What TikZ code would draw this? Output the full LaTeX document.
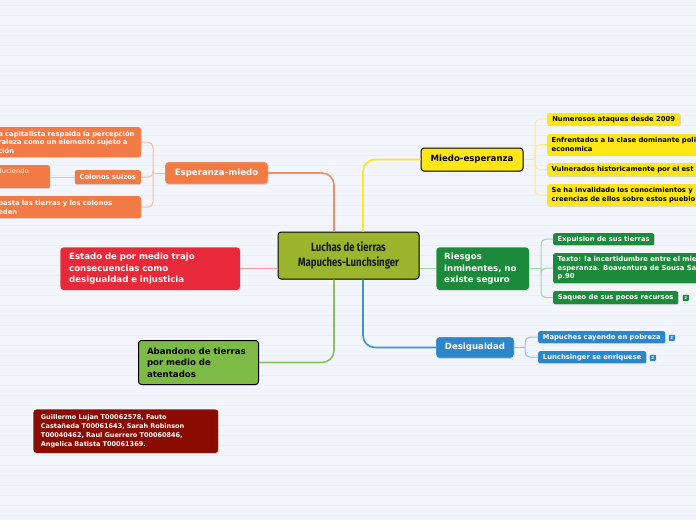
\documentclass[tikz,border=0pt]{standalone}
\usepackage{fontspec}
\setmainfont{DejaVu Sans}
\newfontfamily\cfont[FakeStretch=0.8]{Fira Sans}
\usetikzlibrary{shadows}
\definecolor{bgc}{HTML}{F2F5FC}
\definecolor{bgl}{HTML}{EAEEF7}
\definecolor{colive}{HTML}{9DB52E}
\definecolor{cyellow}{HTML}{FFE617}
\definecolor{cgreen}{HTML}{1B8A3A}
\definecolor{cblue}{HTML}{2B87C9}
\definecolor{corange}{HTML}{F27A44}
\definecolor{cred}{HTML}{E8293A}
\definecolor{clgreen}{HTML}{7DBB46}
\definecolor{cdark}{HTML}{8A0B00}
\definecolor{lyellow}{HTML}{FFEB80}
\definecolor{lgreen}{HTML}{A3D4A8}
\definecolor{lblue}{HTML}{8EC0EA}
\definecolor{lorange}{HTML}{F9BBA0}
\definecolor{lred}{HTML}{F29A9E}
\begin{document}
\begin{tikzpicture}[x=1pt,y=-1pt,
  shade/.style={drop shadow={shadow xshift=0.6pt,shadow yshift=-0.9pt,opacity=0.25}},
  topic/.style={rectangle,rounded corners=3pt,inner xsep=4pt,inner ysep=0pt,
    font=\bfseries\fontsize{8.6}{11.5}\selectfont,shade},
  sub/.style={rectangle,rounded corners=2pt,inner xsep=4.5pt,inner ysep=0pt,
    font=\bfseries\fontsize{6.8}{8.6}\selectfont,shade,anchor=north west},
  icon/.style={rectangle,rounded corners=1pt,minimum size=7pt,inner sep=0pt,anchor=north west,
    draw=white,line width=0.5pt,text=white,font=\bfseries\fontsize{4}{4}\selectfont},
  mainline/.style={line width=1.6pt,rounded corners=12pt},
  branch/.style={line width=1pt,rounded corners=5pt}]
\useasboundingbox (0,0) rectangle (696,520);
\fill[bgc] (0,0) rectangle (696,520);
\foreach \yy in {5,15,...,515} \draw[bgl,line width=0.9pt] (0,\yy) -- (696,\yy);

% central topic
\node[topic,draw=black,line width=1pt,fill=colive,minimum width=141,minimum height=47,align=center,
  font=\cfont\bfseries\fontsize{12}{15}\selectfont,text=black!90] (center) at (348.5,255.5)
  {Luchas de tierras\\Mapuches-Lunchsinger};

% main topics
\node[topic,draw=black,line width=1pt,fill=cyellow,minimum width=102,minimum height=23] (miedo) at (472,159.5) {Miedo-esperanza};
\node[topic,draw=white,fill=cgreen,text=white,anchor=north west,inner xsep=8pt,text width=77,minimum height=43,align=left] (riesgos) at (436,247) {Riesgos\\inminentes, no\\existe seguro};
\node[topic,draw=white,fill=cblue,text=white,minimum width=78,minimum height=21] (desig) at (475,347.5) {Desigualdad};
\node[topic,draw=white,fill=corange,text=white,minimum width=103,minimum height=22] (esper) at (216.5,173) {Esperanza-miedo};
\node[topic,draw=white,fill=cred,text=white,anchor=north west,inner xsep=9pt,text width=162,minimum height=43,align=left] (estado) at (60,247) {Estado de por medio trajo\\consecuencias como\\desigualdad e injusticia};
\node[topic,draw=black,line width=1pt,fill=clgreen,anchor=north west,inner xsep=8.5pt,text width=103,minimum height=44,align=left] (aband) at (138,340) {Abandono de tierras\\por medio de\\atentados};
\node[topic,draw=white,fill=cdark,text=white,anchor=north west,inner xsep=7.7pt,text width=170,minimum height=44,align=left,
  font=\bfseries\fontsize{6.5}{9}\selectfont] (info) at (33,409)
  {Guillermo Lujan T00062578, Fauto\\Castañeda T00061643, Sarah Robinson\\T00040462, Raul Guerrero T00060846,\\Angelica Batista T00061369.};

% yellow subtopics
\node[sub,fill=cyellow,minimum width=133,minimum height=12] (y1) at (547,113) {Numerosos ataques desde 2009};
\node[sub,fill=cyellow,text width=160,minimum height=21,align=left] (y2) at (547,134) {Enfrentados a la clase dominante poli\\economica};
\node[sub,fill=cyellow,text width=160,minimum height=13,align=left] (y3) at (547,163) {Vulnerados historicamente por el est};
\node[sub,fill=cyellow,text width=160,minimum height=22,align=left] (y4) at (547,184) {Se ha invalidado los conocimientos y\\creencias de ellos sobre estos pueblo};

% green subtopics
\node[sub,fill=cgreen,text=white,minimum width=100,minimum height=12] (g1) at (553,233) {Expulsion de sus tierras};
\node[sub,fill=cgreen,text=white,text width=160,minimum height=30,align=left] (g2) at (553,253) {Texto: la incertidumbre entre el mie\\esperanza. Boaventura de Sousa Sa\\p.90};
\node[sub,fill=cgreen,text=white,minimum width=125,minimum height=13] (g3) at (553,291) {Saqueo de sus pocos recursos};
\node[icon,fill=cgreen] (gi) at (682,294) {2};

% blue subtopics
\node[sub,fill=cblue,text=white,minimum width=127,minimum height=12] (b1) at (538,331) {Mapuches cayendo en pobreza};
\node[icon,fill=cblue] (bi1) at (668,334) {2};
\node[sub,fill=cblue,text=white,minimum width=108,minimum height=12] (b2) at (538,351) {Lunchsinger se enriquese};
\node[icon,fill=cblue] (bi2) at (649,354) {2};

% orange subtopics
\node[sub,fill=corange,text=white,anchor=north east,inner xsep=3.5pt,text width=139,minimum height=30,align=left] (o1) at (141,127) {a capitalista respalda la percepción\\raleza como un elemento sujeto a\\ción};
\node[sub,fill=corange,text=white,anchor=north east,minimum width=66,minimum height=14] (o2) at (141,170) {Colonos suizos};
\node[sub,fill=corange,text=white!88!orange,anchor=north east,inner xsep=3pt,text width=56,minimum height=23,align=left,
  font=\fontsize{6.8}{8.6}\selectfont] (o2a) at (50,165) {reduciendo\\\strut};
\node[sub,fill=corange,text=white,anchor=north east,inner xsep=3.5pt,text width=139,minimum height=22,align=left] (o3) at (141,196) {basta las tierras y los colonos\\eden};

% central connectors
\draw[mainline,corange!85] ([xshift=-14.5pt]center.north) |- (esper.east);
\draw[mainline,cyellow] ([xshift=14.5pt]center.north) |- (miedo.west);
\draw[mainline,cblue!90] ([xshift=14.5pt]center.south) |- (desig.west);
\draw[mainline,clgreen!90] ([xshift=-14.5pt]center.south) |- (aband.east);
\draw[line width=1.2pt,lred] (estado.east) -- (estado.east -| center.west);
\draw[line width=1.2pt,lgreen] (riesgos.west) -- (riesgos.west -| center.east);

% branch points
\coordinate (yb) at (535,159.5);
\coordinate (gb) at (541,268.5);
\coordinate (bb) at (525,347.5);
\coordinate (ob) at (153,173);

\draw[branch,lyellow] (miedo.east) -- (yb);
\foreach \n in {y1,y2,y3,y4} \draw[branch,lyellow] (yb) |- (\n.west);
\draw[branch,lgreen] (riesgos.east) -- (gb);
\foreach \n in {g1,g2,g3} \draw[branch,lgreen] (gb) |- (\n.west);
\draw[branch,lblue] (desig.east) -- (bb);
\foreach \n in {b1,b2} \draw[branch,lblue] (bb) |- (\n.west);
\draw[branch,lorange] (esper.west) -- (ob);
\foreach \n in {o1,o2,o3} \draw[branch,lorange] (ob) |- (\n.east);
\draw[branch,lorange] (o2.west) -- (o2.west -| o2a.east);
\end{tikzpicture}
\end{document}
